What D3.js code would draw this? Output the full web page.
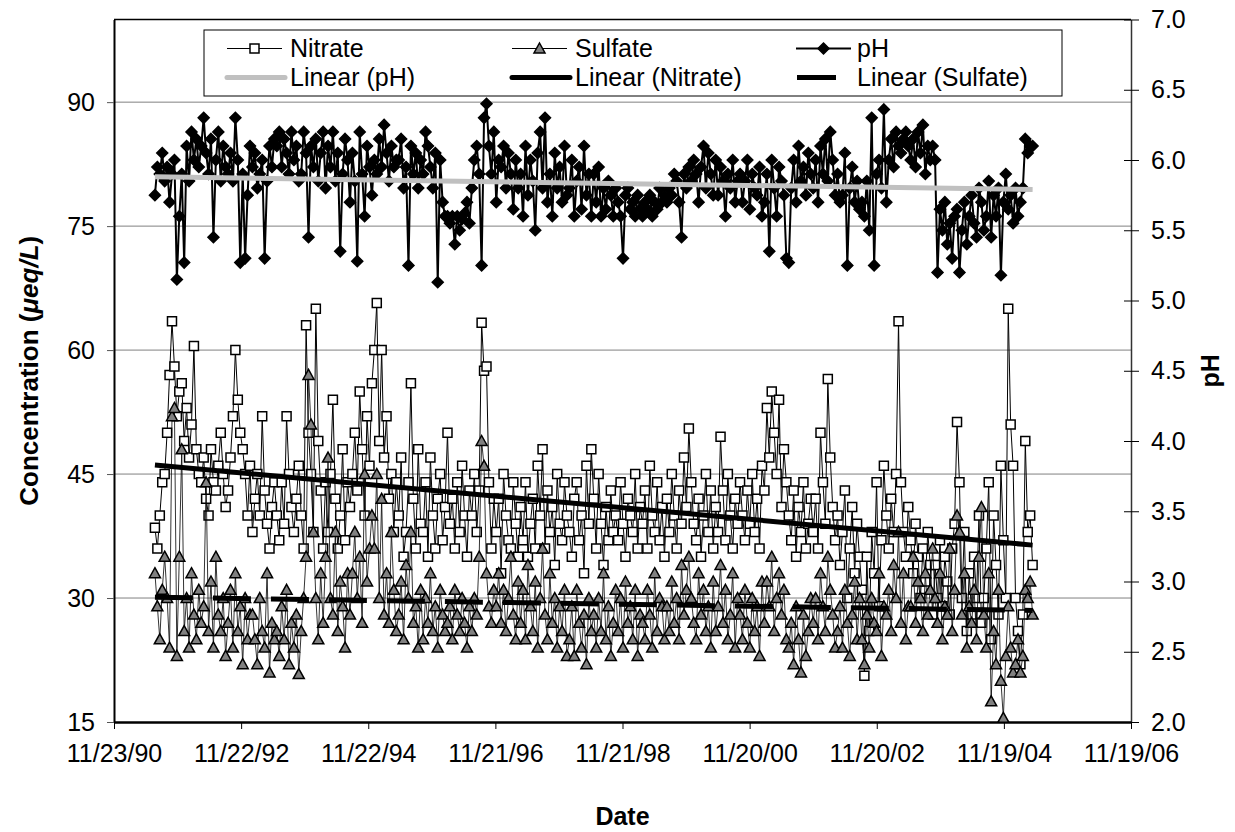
<!DOCTYPE html>
<html lang="en">
<head>
    <meta charset="utf-8"/>
    <title>Nitrate, sulfate and pH</title>
    <script src="https://d3js.org/d3.v7.min.js"></script>
    <style>
        body { margin: 0; background: #fff; }
        svg text { font-family: "Liberation Sans", Arial, sans-serif; fill: #000; }
    </style>
</head>
<body>
<div id="chart"></div>
<script>
    // samples are every two weeks, starting mid July 1991
    const firstSample = new Date(1991, 6, 16);
    const sampleStepDays = 14;

    const nitrate = [
        38.5, 36, 40, 44, 45, 50, 57, 63.5, 58, 52,
        55, 56, 49, 53, 47, 51, 60.5, 48, 45, 44,
        47, 42, 40, 48, 44, 43, 46, 50, 45, 41,
        43, 47, 52, 60, 54, 50, 48, 45, 40, 46,
        38, 42, 45, 40, 52, 43, 39, 36, 41, 44,
        40, 37, 44, 39, 52, 45, 41, 38, 42, 46,
        40, 36, 63, 50, 45, 38, 65, 49, 43, 36,
        44, 38, 45, 54, 42, 36, 40, 48, 37, 44,
        41, 45, 50, 43, 55, 48, 40, 52, 46, 56,
        60, 65.7, 49, 60, 47, 52, 42, 45, 38, 44,
        40, 47, 35, 38, 44, 56, 42, 36, 48, 39,
        38, 44, 35, 47, 40, 36, 42, 45, 37, 41,
        50, 39, 42, 36, 44, 38, 46, 40, 35, 43,
        40, 45, 38, 43, 63.3, 57.5, 58, 44, 36, 42,
        38, 42, 33, 45, 40, 37, 36, 44, 39, 35,
        41, 37, 44, 35, 39, 42, 36, 46, 40, 48,
        36, 43, 38, 41, 34, 45, 39, 37, 44, 40,
        38, 35, 42, 44, 37, 40, 33, 46, 39, 48,
        42, 36, 45, 39, 34, 41, 37, 43, 38, 40,
        37, 44, 39, 35, 42, 40, 38, 45, 36, 41,
        39, 43, 36, 46, 40, 38, 44, 37, 41, 35,
        42, 38, 45, 40, 36, 43, 39, 47, 41, 50.5,
        44, 39, 37, 42, 35, 40, 45, 38, 43, 36,
        41, 38, 49.5, 43, 37, 45, 40, 36, 42, 39,
        44, 40, 37, 43, 39, 45, 38, 42, 36, 46,
        43, 53, 47, 55, 50, 45, 54, 41, 48, 44,
        40, 37, 43, 35, 41, 38, 44, 36, 39, 42,
        38, 42, 36, 50, 44, 39, 56.5, 47, 41, 37,
        40, 34, 38, 43, 30, 36, 41, 33, 39, 35,
        31, 20.6, 35, 26, 38, 33, 44, 29, 37, 46,
        40, 36, 42, 38, 45, 63.5, 44, 38, 35, 41,
        37, 33, 39, 35, 30, 36, 32, 38, 34, 28,
        34, 30, 37, 29, 35, 32, 28, 36, 39, 51.3,
        44, 30, 38, 26, 33, 28, 35, 30, 40, 27,
        30, 36, 44, 25, 40, 34, 28, 46, 37, 30,
        65, 51, 46, 30, 26, 22, 28, 49, 38, 40,
        34
    ];

    const sulfate = [
        33, 29, 25, 31, 35, 30, 24, 52, 53, 23,
        35, 48, 26, 30, 24, 33, 28, 25, 31, 27,
        29, 44, 26, 32, 24, 35, 28, 26, 30, 23,
        27, 31, 24, 33, 26, 29, 22, 30, 25, 28,
        28, 25, 22, 30, 26, 24, 33, 21, 27, 25,
        26, 23, 29, 25, 31, 22, 27, 24, 28, 20.8,
        26, 30, 35, 57, 51, 38, 30, 25, 33, 27,
        35, 47, 30, 28, 38, 26, 32, 29, 24, 33,
        28, 33, 38, 30, 35, 27, 45, 32, 36, 40,
        36, 45, 30, 42, 28, 33, 27, 38, 31, 26,
        28, 32, 25, 34, 30, 38, 27, 29, 24, 31,
        25, 30, 27, 33, 26, 29, 24, 31, 28, 26,
        27, 29, 25, 31, 28, 26, 30, 27, 24, 29,
        26, 30, 28, 35, 49, 46, 33, 29, 27, 31,
        29, 33, 27, 31, 26, 30, 35, 28, 25, 32,
        27, 31, 25, 34, 29, 26, 32, 24, 30, 36,
        28, 25, 33, 27, 30, 24, 29, 26, 31, 23,
        25, 29, 23, 31, 27, 24, 28, 22, 30, 26,
        28, 24, 30, 26, 33, 25, 29, 23, 27, 31,
        26, 30, 24, 32, 27, 29, 25, 31, 23, 28,
        27, 25, 31, 28, 24, 33, 26, 30, 29, 25,
        29, 26, 32, 27, 30, 25, 34, 28, 31, 35,
        30, 27, 25, 33, 28, 31, 26, 29, 24, 32,
        26, 29, 34, 27, 31, 25, 28, 33, 24, 30,
        28, 25, 31, 27, 24, 30, 26, 29, 23, 32,
        27, 32, 29, 35, 26, 30, 33, 28, 31, 25,
        24, 27, 22, 29, 25, 21, 28, 23, 26, 30,
        27, 30, 25, 33, 29, 26, 35, 31, 28, 24,
        26, 29, 24, 31, 27, 23, 28, 32, 25, 30,
        25, 22, 28, 24, 30, 27, 26, 33, 23, 29,
        28, 31, 26, 34, 30, 38, 27, 33, 25, 29,
        29, 35, 27, 32, 30, 26, 33, 28, 31, 36,
        30, 27, 33, 25, 29, 28, 36, 26, 31, 40,
        38, 28, 33, 24, 29, 27, 31, 25, 35, 41,
        28, 24, 33, 17.5, 26, 22, 31, 20, 15.5, 23,
        29, 24, 21, 22, 25, 21, 23, 31, 30, 32,
        28
    ];

    const pH = [
        5.75, 5.95, 5.9, 6.05, 5.85, 5.95, 5.7, 5.9, 6.0, 5.15,
        5.6, 5.9, 5.27, 6.1, 5.85, 6.2, 6.0, 6.15, 5.95, 6.1,
        6.3, 6.05, 5.9, 6.15, 5.45, 6.0, 6.2, 5.85, 6.1, 5.95,
        5.9, 6.05, 5.85, 6.3, 6.0, 5.27, 5.9, 5.3, 5.75, 6.1,
        5.95, 6.05, 5.8, 5.9, 6.0, 5.3, 5.85, 6.1, 5.95, 6.15,
        6.1, 6.2, 5.95, 6.15, 6.05, 5.9, 6.2, 6.0, 6.1, 5.85,
        5.9, 6.2, 6.05, 5.45, 6.1, 5.95, 6.15, 5.85, 6.05, 6.2,
        5.8, 6.1, 5.95, 6.2, 5.85, 6.05, 5.35, 5.9, 6.15, 6.0,
        5.7, 6.05, 5.85, 5.28, 6.2, 5.9, 5.6, 6.1, 5.95, 5.75,
        6.0, 5.9, 6.15, 5.95, 6.25, 6.05, 5.85, 6.1, 5.95, 6.0,
        6.0, 6.15, 5.8, 5.95, 5.25, 6.1, 5.9, 6.05, 5.8, 6.0,
        5.9, 6.2, 6.1, 5.95, 5.8, 6.05, 5.13, 6.0, 5.7, 5.6,
        5.6, 5.55, 5.6, 5.4, 5.6, 5.5, 5.58, 5.62, 5.7, 5.55,
        5.8, 6.0, 6.1, 5.9, 5.25, 6.3, 6.4, 6.1, 5.9, 6.2,
        5.7, 6.0, 5.95, 6.1, 5.8, 6.05, 5.9, 5.65, 6.0, 5.8,
        5.9, 5.6, 6.1, 5.75, 6.0, 5.85, 5.5, 6.05, 6.2, 5.8,
        6.3, 5.7, 5.9, 5.6, 6.05, 5.8, 5.95, 5.7, 6.1, 5.75,
        5.8, 6.0, 5.6, 5.85, 5.95, 5.65, 6.1, 5.75, 5.9, 5.6,
        5.9, 5.7, 5.95, 5.6, 5.8, 5.65, 5.85, 5.75, 5.6, 5.8,
        5.7, 5.6, 5.3, 5.75, 5.8, 5.65, 5.7, 5.6, 5.75, 5.65,
        5.6, 5.7, 5.65, 5.75, 5.6, 5.7, 5.65, 5.8, 5.7, 5.75,
        5.7, 5.8, 5.75, 5.9, 5.85, 5.7, 5.45, 5.9, 5.8, 5.95,
        5.85, 6.0, 5.9, 5.7, 5.95, 6.1, 5.8, 6.05, 5.9, 5.75,
        6.0, 5.75, 5.95, 5.85, 5.6, 5.9, 5.8, 6.0, 5.7, 5.85,
        5.9, 5.7, 5.85, 6.0, 5.65, 5.9, 5.8, 5.75, 5.95, 5.6,
        5.7, 5.9, 5.35, 6.0, 5.8, 5.6, 5.95, 5.85, 5.75, 5.3,
        5.27, 5.8, 6.0, 5.7, 6.1, 5.85, 5.95, 5.75, 6.05, 5.9,
        5.8, 6.0, 5.7, 6.1, 5.9, 6.15, 5.85, 6.2, 6.0, 5.75,
        5.9, 5.7, 5.75, 6.05, 5.25, 5.8, 5.95, 5.7, 5.85, 5.65,
        5.7, 5.6, 5.85, 5.5, 6.3, 5.25, 5.9, 6.0, 5.8, 6.36,
        5.7, 6.0, 6.15, 5.95, 6.2, 6.1, 6.05, 6.15, 6.2, 6.1,
        6.0, 6.15, 5.95, 6.2, 6.05, 6.25, 5.9, 6.1, 6.0, 6.1,
        6.0, 5.2, 5.65, 5.5, 5.7, 5.4, 5.55, 5.3, 5.6, 5.65,
        5.2, 5.5, 5.7, 5.4, 5.6, 5.75, 5.55, 5.45, 5.8, 5.7,
        5.5, 5.6, 5.85, 5.45, 5.75, 5.6, 5.8, 5.18, 5.7, 5.9,
        5.65, 5.75, 5.55, 5.8, 5.6, 5.7, 5.8, 6.15, 6.05, 6.1,
        6.1
    ];

    // trend line end values (first sample, last sample)
    const nitrateTrend = [46.1, 36.4];
    const sulfateTrend = [30.1, 28.5];
    const pHTrend = [5.88, 5.79];

    const dateTicks = ["11/23/90", "11/22/92", "11/22/94", "11/21/96", "11/21/98",
        "11/20/00", "11/20/02", "11/19/04", "11/19/06"];
    const concTicks = [15, 30, 45, 60, 75, 90];
    const pHTicks = [2.0, 2.5, 3.0, 3.5, 4.0, 4.5, 5.0, 5.5, 6.0, 6.5, 7.0];

    const W = 1235, H = 832;
    const plotL = 114, plotR = 1131, plotT = 19.5, plotB = 722;

    const parseTick = d3.timeParse("%m/%d/%y");
    const tickDates = dateTicks.map(parseTick);
    const dates = nitrate.map((d, i) => d3.timeDay.offset(firstSample, i * sampleStepDays));

    const x = d3.scaleTime()
        .domain([tickDates[0], tickDates[tickDates.length - 1]])
        .range([plotL, plotR]);
    const yL = d3.scaleLinear().domain([15, 100]).range([plotB, plotT]);
    const yR = d3.scaleLinear().domain([2, 7]).range([plotB, plotT]);

    const svg = d3.select("#chart").append("svg")
        .attr("width", W)
        .attr("height", H);

    // gridlines at the concentration ticks
    svg.append("g")
        .selectAll("line")
        .data(concTicks.slice(1))
        .join("line")
        .attr("x1", plotL).attr("x2", plotR)
        .attr("y1", d => yL(d)).attr("y2", d => yL(d))
        .attr("stroke", "#808080")
        .attr("stroke-width", 1);

    // plot frame top
    svg.append("line")
        .attr("x1", plotL).attr("x2", plotR)
        .attr("y1", plotT).attr("y2", plotT)
        .attr("stroke", "#000").attr("stroke-width", 1.5);

    // axes
    const axL = svg.append("g")
        .attr("transform", `translate(${plotL},0)`)
        .call(d3.axisLeft(yL).tickValues(concTicks).tickSize(7).tickPadding(12).tickSizeOuter(0));
    const axR = svg.append("g")
        .attr("transform", `translate(${plotR},0)`)
        .call(d3.axisRight(yR).tickValues(pHTicks).tickFormat(d3.format(".1f"))
            .tickSize(8).tickPadding(12).tickSizeOuter(0));
    axR.selectAll(".tick line").attr("x1", -7);
    const axB = svg.append("g")
        .attr("transform", `translate(0,${plotB})`)
        .call(d3.axisBottom(x).tickValues(tickDates).tickFormat(d3.timeFormat("%m/%d/%y"))
            .tickSize(7).tickPadding(15).tickSizeOuter(0));

    [axL, axR, axB].forEach(g => {
        g.selectAll("text").attr("font-size", 25)
            .attr("font-family", '"Liberation Sans", Arial, sans-serif');
        g.selectAll(".tick line").attr("stroke", "#000");
    });
    axL.select(".domain").attr("stroke-width", 2);
    axB.select(".domain").attr("stroke-width", 2.5);
    axR.select(".domain").attr("stroke", "#333").attr("stroke-width", 1.5);
    axL.selectAll(".tick line").attr("stroke", "#555");

    // axis titles
    const title = svg.append("text")
        .attr("transform", `translate(38,${(plotT + plotB) / 2}) rotate(-90)`)
        .attr("text-anchor", "middle")
        .attr("font-size", 26)
        .attr("font-weight", "bold");
    title.append("tspan").text("Concentration (");
    title.append("tspan").attr("font-style", "italic").text("μeq/L");
    title.append("tspan").text(")");

    svg.append("text")
        .attr("transform", `translate(1219,${(plotT + plotB) / 2}) rotate(-90)`)
        .attr("text-anchor", "middle")
        .attr("font-size", 25)
        .attr("font-weight", "bold")
        .text("pH");

    svg.append("text")
        .attr("x", (plotL + plotR) / 2)
        .attr("y", 825)
        .attr("text-anchor", "middle")
        .attr("font-size", 25)
        .attr("font-weight", "bold")
        .text("Date");

    // marker shapes
    const squarePath = "M-4.5,-4.5H4.5V4.5H-4.5Z";
    const trianglePath = "M0,-5.5L5.5,4.5H-5.5Z";
    const diamondPath = "M0,-5.5L5.5,0L0,5.5L-5.5,0Z";

    function drawSeries(values, y, lineW, path, fill, stroke) {
        const g = svg.append("g");
        g.append("path")
            .datum(values)
            .attr("fill", "none")
            .attr("stroke", "#000")
            .attr("stroke-width", lineW)
            .attr("d", d3.line().x((d, i) => x(dates[i])).y(d => y(d)));
        g.selectAll("path.mk")
            .data(values)
            .join("path")
            .attr("class", "mk")
            .attr("transform", (d, i) => `translate(${x(dates[i])},${y(d)})`)
            .attr("d", path)
            .attr("fill", fill)
            .attr("stroke", stroke)
            .attr("stroke-width", 1.5);
    }

    drawSeries(nitrate, yL, 1, squarePath, "#fff", "#000");
    drawSeries(sulfate, yL, 0.8, trianglePath, "#808080", "#000");
    drawSeries(pH, yR, 2, diamondPath, "#000", "#000");

    // trend lines
    const ends = [dates[0], dates[dates.length - 1]];
    function trend(vals, y, color, width, dash) {
        svg.append("line")
            .attr("x1", x(ends[0])).attr("x2", x(ends[1]))
            .attr("y1", y(vals[0])).attr("y2", y(vals[1]))
            .attr("stroke", color)
            .attr("stroke-width", width)
            .attr("stroke-dasharray", dash);
    }
    trend(pHTrend, yR, "#c0c0c0", 5, null);
    trend(nitrateTrend, yL, "#000", 5, null);
    trend(sulfateTrend, yL, "#000", 5, "38,20");

    // legend
    const lg = svg.append("g");
    lg.append("rect")
        .attr("x", 204).attr("y", 30)
        .attr("width", 858).attr("height", 66)
        .attr("fill", "#fff")
        .attr("stroke", "#000").attr("stroke-width", 1);

    const legendItems = [
        {label: "Nitrate", col: 0, row: 0, kind: "marker", path: squarePath, fill: "#fff"},
        {label: "Sulfate", col: 1, row: 0, kind: "marker", path: trianglePath, fill: "#808080"},
        {label: "pH", col: 2, row: 0, kind: "marker", path: diamondPath, fill: "#000"},
        {label: "Linear (pH)", col: 0, row: 1, kind: "trend", color: "#c0c0c0"},
        {label: "Linear (Nitrate)", col: 1, row: 1, kind: "trend", color: "#000"},
        {label: "Linear (Sulfate)", col: 2, row: 1, kind: "dash", color: "#000"}
    ];
    const colX = [227, 512, 796];
    const rowY = [48.5, 77.5];
    legendItems.forEach(it => {
        const x0 = colX[it.col], yy = rowY[it.row];
        if (it.kind === "marker") {
            lg.append("line").attr("x1", x0).attr("x2", x0 + 55)
                .attr("y1", yy).attr("y2", yy)
                .attr("stroke", "#000").attr("stroke-width", it.label === "pH" ? 2 : 1);
            lg.append("path").attr("transform", `translate(${x0 + 27.5},${yy})`)
                .attr("d", it.path).attr("fill", it.fill)
                .attr("stroke", "#000").attr("stroke-width", 1.5);
        } else if (it.kind === "trend") {
            lg.append("line").attr("x1", x0).attr("x2", x0 + 58)
                .attr("y1", yy).attr("y2", yy)
                .attr("stroke", it.color).attr("stroke-width", 5)
                .attr("stroke-linecap", "round");
        } else {
            lg.append("line").attr("x1", x0 + 1).attr("x2", x0 + 40)
                .attr("y1", yy).attr("y2", yy)
                .attr("stroke", it.color).attr("stroke-width", 5);
        }
        lg.append("text")
            .attr("x", it.col === 2 ? x0 + 61 : x0 + 63)
            .attr("y", yy)
            .attr("dy", "0.35em")
            .attr("font-size", 25)
            .text(it.label);
    });
</script>
</body>
</html>
